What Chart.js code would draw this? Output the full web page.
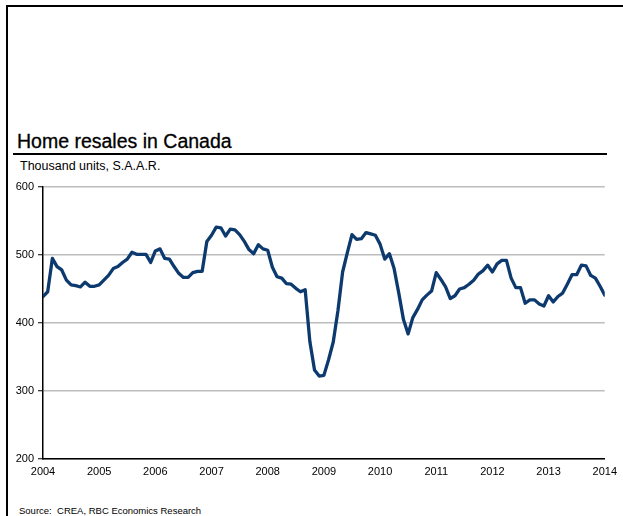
<!DOCTYPE html>
<html>
<head>
<meta charset="utf-8">
<script src="https://cdn.jsdelivr.net/npm/chart.js@4.4.1/dist/chart.umd.min.js"></script>
<style>
  html, body { margin: 0; padding: 0; background: #fff; }
  body { width: 623px; height: 516px; position: relative; overflow: hidden; font-family: "Liberation Sans", Arial, sans-serif; }
  #frame { position: absolute; left: 6px; top: 5px; width: 640px; height: 600px; border-top: 2px solid #000; border-left: 2px solid #000; }
  #title { position: absolute; left: 17px; top: 130px; font-size: 19.5px; color: #000; white-space: nowrap; -webkit-text-stroke: 0.3px #000; }
  #rule { position: absolute; left: 13px; top: 153px; width: 594px; height: 2px; background: #000; }
  #subtitle { position: absolute; left: 20px; top: 159px; font-size: 12.5px; color: #000; white-space: nowrap; }
  #source { position: absolute; left: 19px; top: 505px; font-size: 9.5px; color: #000; white-space: nowrap; }
  #wrap { position: absolute; left: 0; top: 0; width: 623px; height: 516px; }
</style>
</head>
<body>
<div id="frame"></div>
<div id="title">Home resales in Canada</div>
<div id="rule"></div>
<div id="subtitle">Thousand units, S.A.A.R.</div>
<div id="source">Source:&nbsp; CREA, RBC Economics Research</div>
<div id="wrap"><canvas id="c" width="623" height="516"></canvas></div>
<script>
// Year tick labels (every 12 months, Jan 2004 .. Jan 2014)
const yearLabels = ["2004","2005","2006","2007","2008","2009","2010","2011","2012","2013","2014"];
// Y axis ticks
const yTicks = [200, 300, 400, 500, 600];
// Monthly home resales, thousand units SAAR, Jan 2004 .. Jan 2014
const resales2004 = [439, 446, 495, 483, 478, 463, 456, 455, 453, 460, 454, 454];
const resales2005 = [456, 463, 470, 480, 483, 489, 494, 504, 501, 501, 501, 489];
const resales2006 = [506, 509, 495, 494, 483, 473, 467, 467, 474, 476, 476, 520];
const resales2007 = [529, 541, 540, 528, 538, 537, 530, 520, 508, 502, 515, 509];
const resales2008 = [507, 482, 468, 466, 458, 457, 451, 446, 449, 373, 331, 322];
const resales2009 = [323, 346, 372, 418, 475, 503, 530, 523, 524, 533, 531, 529];
const resales2010 = [516, 494, 502, 480, 444, 405, 384, 408, 420, 434, 441, 447];
const resales2011 = [474, 464, 453, 436, 440, 450, 452, 457, 463, 472, 477, 485];
const resales2012 = [475, 487, 492, 492, 466, 452, 452, 429, 434, 434, 428, 425];
const resales2013 = [440, 431, 439, 444, 457, 471, 471, 485, 484, 470, 466, 454];
const resales2014 = [441];

const values = [].concat(resales2004, resales2005, resales2006, resales2007, resales2008,
  resales2009, resales2010, resales2011, resales2012, resales2013, resales2014);
const points = values.map((v, i) => ({ x: i, y: v }));

new Chart(document.getElementById('c'), {
  type: 'line',
  data: {
    datasets: [{
      data: points,
      borderColor: '#0d3a6e',
      borderWidth: 3.3,
      pointRadius: 0,
      tension: 0,
      borderJoinStyle: 'round',
      borderCapStyle: 'round',
      fill: false
    }]
  },
  options: {
    responsive: false,
    animation: false,
    devicePixelRatio: 1,
    layout: { padding: { left: 0, right: 15, top: 187, bottom: 27 } },
    plugins: { legend: { display: false }, tooltip: { enabled: false }, title: { display: false } },
    scales: {
      x: {
        type: 'linear',
        min: 0,
        max: (yearLabels.length - 1) * 12,
        afterBuildTicks: (s) => { s.ticks = yearLabels.map((_, i) => ({ value: i * 12 })); },
        afterFit: (s) => { s.height = 30; },
        grid: { display: false, drawTicks: false },
        border: { display: true, color: '#000', width: 1.5 },
        ticks: {
          autoSkip: false,
          maxRotation: 0,
          padding: 6,
          color: '#000',
          font: { family: "'Liberation Sans', Arial, sans-serif", size: 11 },
          callback: (v) => yearLabels[Math.round(v / 12)]
        }
      },
      y: {
        min: 200,
        max: 600,
        afterBuildTicks: (s) => { s.ticks = yTicks.map(v => ({ value: v })); },
        afterFit: (s) => { s.width = 43; },
        grid: { color: '#bdbdbd', lineWidth: 1.5, drawTicks: true, tickLength: 5, tickColor: '#000', tickWidth: 1 },
        border: { display: true, color: '#000', width: 1.5 },
        ticks: {
          padding: 4,
          color: '#000',
          font: { family: "'Liberation Sans', Arial, sans-serif", size: 11 }
        }
      }
    }
  }
});
</script>
</body>
</html>
